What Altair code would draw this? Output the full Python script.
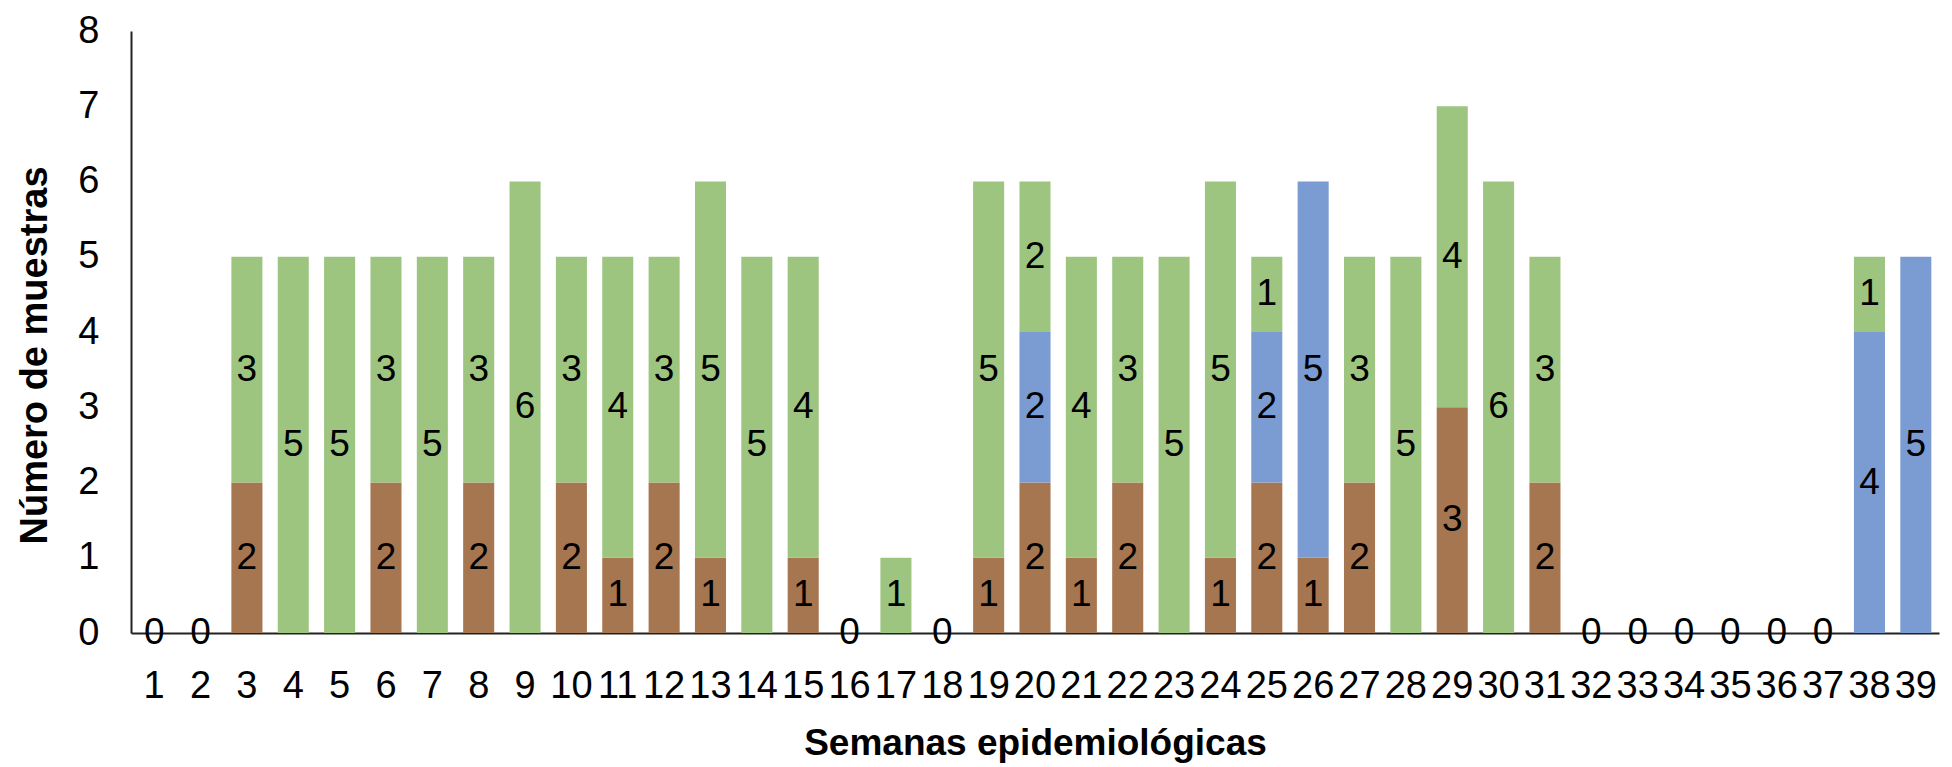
import altair as alt
import pandas as pd

weeks = list(range(1, 40))
brown = [0, 0, 2, 0, 0, 2, 0, 2, 0, 2, 1, 2, 1, 0, 1, 0, 0, 0, 1, 2, 1, 2, 0, 1, 2, 1, 2, 0, 3, 0, 2, 0, 0, 0, 0, 0, 0, 0, 0]
blue = [0, 0, 0, 0, 0, 0, 0, 0, 0, 0, 0, 0, 0, 0, 0, 0, 0, 0, 0, 2, 0, 0, 0, 0, 2, 5, 0, 0, 0, 0, 0, 0, 0, 0, 0, 0, 0, 4, 5]
green = [0, 0, 3, 5, 5, 3, 5, 3, 6, 3, 4, 3, 5, 5, 4, 0, 1, 0, 5, 2, 4, 3, 5, 5, 1, 0, 3, 5, 4, 6, 3, 0, 0, 0, 0, 0, 0, 1, 0]

series_names = ["A", "B", "C"]
series_colors = ["#A67651", "#7B9BD3", "#9DC580"]

rows = []
for i, w in enumerate(weeks):
    for k, (name, vals) in enumerate(zip(series_names, [brown, blue, green])):
        rows.append({"week": w, "serie": name, "ord": k, "value": vals[i]})
df = pd.DataFrame(rows)

FONT = "Liberation Sans"
TICK_FS = 38
LABEL_FS = 37

x_enc = alt.X(
    "week:O",
    sort=weeks,
    title="Semanas epidemiológicas",
    scale=alt.Scale(paddingInner=0.33, paddingOuter=0.165),
    axis=alt.Axis(
        labelAngle=0, labelFontSize=TICK_FS, labelFont=FONT, labelColor="black",
        ticks=False, domainColor="#222222", domainWidth=2, labelPadding=34,
        titleFontSize=37, titleFont=FONT, titleFontWeight="bold", titleColor="black",
        titleBaseline="alphabetic", titleY=121,
    ),
)

stacked = alt.Chart(df).transform_filter("datum.value > 0").transform_stack(
    stack="value", groupby=["week"], sort=[alt.SortField("ord")], as_=["y0", "y1"]
).transform_calculate(mid="(datum.y0 + datum.y1) / 2")

bars = stacked.mark_bar().encode(
    x=x_enc,
    y=alt.Y(
        "y0:Q",
        title="Número de muestras",
        scale=alt.Scale(domain=[0, 8], nice=False),
        axis=alt.Axis(
            values=list(range(0, 9)), format="d", grid=False, ticks=False,
            domainColor="#222222", domainWidth=2, labelFontSize=TICK_FS, labelFont=FONT,
            labelColor="black", labelPadding=32, titleFontSize=38, titleFont=FONT,
            titleFontWeight="bold", titleColor="black", titleAngle=270,
            titleBaseline="alphabetic", titleAlign="center", titleX=-85, titleY=324,
        ),
    ),
    y2="y1:Q",
    color=alt.Color("serie:N", scale=alt.Scale(domain=series_names, range=series_colors), legend=None),
)

labels = stacked.mark_text(fontSize=LABEL_FS, font=FONT, color="black").encode(
    x=alt.X("week:O", sort=weeks),
    y=alt.Y("mid:Q"),
    text=alt.Text("value:Q"),
)

zeros = alt.Chart(df).transform_aggregate(
    total="sum(value)", groupby=["week"]
).transform_filter("datum.total == 0").mark_text(fontSize=LABEL_FS, font=FONT, color="black").encode(
    x=alt.X("week:O", sort=weeks),
    y=alt.Y("total:Q"),
    text=alt.Text("total:Q"),
)

chart = alt.layer(bars, labels, zeros).properties(
    width=1808, height=602,
    autosize=alt.AutoSizeParams(type="none"),
    padding={"left": 123, "top": 23, "right": 5, "bottom": 132},
).configure_view(stroke=None)

chart.save("out.html", embed_options={"renderer": "svg", "actions": False})
